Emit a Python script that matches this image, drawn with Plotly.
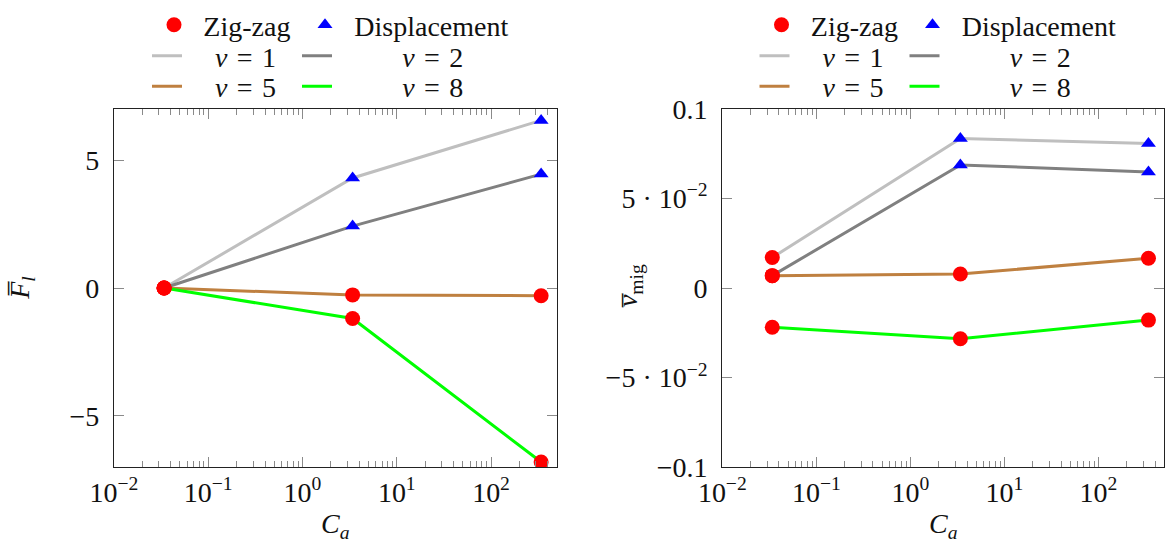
import plotly.graph_objects as go

# ---------------- data ----------------
Ca = [0.034, 3.4, 340]
nus = [1, 2, 5, 8]
F_l = {1: [0.0, 4.3, 6.55], 2: [0.0, 2.42, 4.45], 5: [0.0, -0.27, -0.3], 8: [0.0, -1.19, -6.8]}
v_mig = {1: [0.0170, 0.0834, 0.0807], 2: [0.0069, 0.0687, 0.0648],
         5: [0.0069, 0.0078, 0.0166], 8: [-0.0219, -0.0283, -0.0179]}
method = {1: ["Zig-zag", "Displacement", "Displacement"],
          2: ["Zig-zag", "Displacement", "Displacement"],
          5: ["Zig-zag", "Zig-zag", "Zig-zag"],
          8: ["Zig-zag", "Zig-zag", "Zig-zag"]}
x_tickvals = [0.01, 0.1, 1, 10, 100]
x_ticktext = ["10<sup>−2</sup>", "10<sup>−1</sup>", "10<sup>0</sup>", "10<sup>1</sup>", "10<sup>2</sup>"]
yl_tickvals = [-5, 0, 5]
yl_ticktext = ["−5", "0", "5"]
yr_tickvals = [-0.1, -0.05, 0, 0.05, 0.1]
yr_ticktext = ["−0.1", "−5 · 10<sup>−2</sup>", "0", "5 · 10<sup>−2</sup>", "0.1"]

colors = {1: "#bfbfbf", 2: "#808080", 5: "#bf8040", 8: "#00ff00"}
mstyle = {"Zig-zag": dict(symbol="circle", color="#ff0000", size=15),
          "Displacement": dict(symbol="triangle-up", color="#0000ff", size=13)}

W, H = 1169, 546
FONT = "Liberation Serif"
FS = 28


def px_x(p):
    return p / W


def px_y(p):
    return 1 - p / H


fig = go.Figure()

# legend slots: (item-left px, row-centre px, text pad)
SP1 = "\u2004"
SP_C1 = "\u2003"
SP_C2 = "\u2003\u2003\u2004"
nu_slot = {1: (147, 47, SP_C1), 2: (297, 47, SP_C2), 5: (147, 78, SP_C1), 8: (297, 78, SP_C2)}
m_slot = {"Zig-zag": (154, 15, SP1), "Displacement": (305, 15, SP1)}

panels = [("x", "y", F_l, 0.0, 0), ("x2", "y2", v_mig, 607.5, 6)]

leg_common = dict(orientation="h", xanchor="left", yanchor="middle", bgcolor="rgba(0,0,0,0)",
                  font=dict(family=FONT, size=FS, color="#111"), itemclick=False,
                  itemdoubleclick=False)

for xa, ya, data, off, base in panels:
    idx = base
    for nu in nus:
        idx += 1
        lg = "legend" if idx == 1 else f"legend{idx}"
        lx, ly, pad = nu_slot[nu]
        fig.layout[lg] = dict(x=px_x(lx + off), y=px_y(ly), **leg_common)
        fig.add_trace(go.Scatter(
            x=Ca, y=data[nu], mode="lines", xaxis=xa, yaxis=ya,
            line=dict(color=colors[nu], width=3),
            name=f"{pad}<i>ν</i>\u2004=\u2004{nu}", legend=lg, showlegend=True))
    for m in ["Zig-zag", "Displacement"]:
        idx += 1
        lg = f"legend{idx}"
        lx, ly, pad = m_slot[m]
        fig.layout[lg] = dict(x=px_x(lx + off), y=px_y(ly), **leg_common)
        xs, ys = [], []
        for nu in nus:
            for k in range(len(Ca)):
                if method[nu][k] == m:
                    xs.append(Ca[k]); ys.append(data[nu][k])
        st = mstyle[m]
        fig.add_trace(go.Scatter(
            x=xs, y=ys, mode="markers", xaxis=xa, yaxis=ya, name=pad + m,
            marker=dict(symbol=st["symbol"], color=st["color"], size=st["size"], line=dict(width=0)),
            legend=lg, showlegend=True))

axis_common = dict(showline=True, linecolor="#222", linewidth=1.2, mirror="allticks",
                   ticks="inside", tickcolor="#8a8a8a", ticklen=10, tickwidth=1,
                   showgrid=False, zeroline=False,
                   tickfont=dict(family=FONT, size=FS, color="#111"))

xdom1 = [px_x(114), px_x(557)]
xdom2 = [px_x(722.3), px_x(1164.3)]
ydom = [px_y(465.7), px_y(100.7)]

for xname, yname, xdom, ytv, ytt, yr in [
        ("xaxis", "yaxis", xdom1, yl_tickvals, yl_ticktext, [-7, 7]),
        ("xaxis2", "yaxis2", xdom2, yr_tickvals, yr_ticktext, [-0.1, 0.1])]:
    anchor_y = "y" if yname == "yaxis" else "y2"
    anchor_x = "x" if xname == "xaxis" else "x2"
    fig.layout[xname] = dict(type="log", domain=xdom, anchor=anchor_y, range=[-2, 2.70],
                             tickmode="array", tickvals=x_tickvals, ticktext=x_ticktext,
                             minor=dict(ticks="inside", ticklen=6, tickcolor="#8a8a8a", dtick="D1"),
                             automargin=False, ticklabelstandoff=0, **axis_common)
    fig.layout[yname] = dict(domain=ydom, anchor=anchor_x, range=yr,
                             tickmode="array", tickvals=ytv, ticktext=ytt,
                             automargin=False, ticklabelstandoff=8, **axis_common)

ann = [
    dict(x=px_x(335.5), y=px_y(525), text="<i>C<sub>a</sub></i>"),
    dict(x=px_x(943), y=px_y(525), text="<i>C<sub>a</sub></i>"),
    dict(x=px_x(22), y=px_y(283), text="<i>F̅</i><sub><i>l</i></sub>", textangle=-90),
    dict(x=px_x(630), y=px_y(281), text="<i>v̅</i><sub>mig</sub>", textangle=-90),
]
for a in ann:
    fig.add_annotation(xref="paper", yref="paper", showarrow=False, xanchor="center", yanchor="middle",
                       font=dict(family=FONT, size=FS, color="#111"), **a)

fig.update_layout(width=W, height=H, margin=dict(l=0, r=0, t=0, b=0),
                  paper_bgcolor="white", plot_bgcolor="white")

fig.write_html("out.html", config={"displayModeBar": False},
               post_script="document.body.style.margin='0';document.body.style.overflow='hidden';")
